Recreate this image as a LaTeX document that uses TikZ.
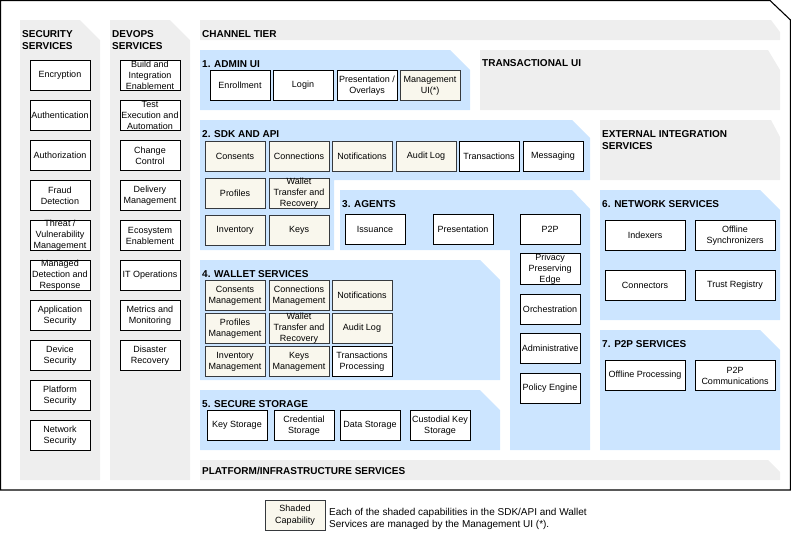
\documentclass[tikz,border=0pt]{standalone}
\usepackage{fontspec}
\setmainfont{Liberation Sans}
\definecolor{panelgray}{HTML}{EEEEEE}
\definecolor{panelblue}{HTML}{CCE5FF}
\definecolor{shadefill}{HTML}{F9F7ED}
\definecolor{shadeline}{HTML}{36393D}
\begin{document}
\begin{tikzpicture}
        [x=1pt, y=-1pt,
        box/.style={draw, fill=white, line width=0.9pt, minimum width=60pt, minimum height=30pt, inner sep=0pt, align=center, font=\fontsize{9}{11}\selectfont},
        shaded/.style={box, fill=shadefill, draw=shadeline},
        wide/.style={minimum width=80pt},
        title/.style={anchor=north west, inner sep=0pt, align=left, font=\fontsize{10}{12}\selectfont\bfseries},
        graypanel/.style={fill=panelgray},
        bluepanel/.style={fill=panelblue}]

        \useasboundingbox (0,0) rectangle (791,547);

        % outer frame
        \draw[line width=1.1pt] (0.5,0.5) -- (770,0.5) -- (790.5,20) -- (790.5,490) -- (0.5,490) -- cycle;

        % gray panels
        \fill[graypanel] (20,20) -- (80,20) -- (100,40) -- (100,480) -- (20,480) -- cycle;
        \fill[graypanel] (110,20) -- (170,20) -- (190,40) -- (190,480) -- (110,480) -- cycle;
        \fill[graypanel] (200,20) -- (771,20) -- (780,32) -- (780,40) -- (200,40) -- cycle;
        \fill[graypanel] (480,50) -- (768,50) -- (780,70) -- (780,110) -- (480,110) -- cycle;
        \fill[graypanel] (600,120) -- (771,120) -- (780,137) -- (780,180) -- (600,180) -- cycle;
        \fill[graypanel] (200,460) -- (768,460) -- (780,472) -- (780,480) -- (200,480) -- cycle;

        % blue panels
        \fill[bluepanel] (200,50) -- (450,50) -- (470,70) -- (470,110) -- (200,110) -- cycle;
        \fill[bluepanel] (200,120) -- (572,120) -- (590,138) -- (590,180) -- (334,180) -- (334,250) -- (200,250) -- cycle;
        \fill[bluepanel] (340,190) -- (572,190) -- (590,209) -- (590,450) -- (510,450) -- (510,250) -- (340,250) -- cycle;
        \fill[bluepanel] (200,260) -- (480,260) -- (500,280) -- (500,380) -- (200,380) -- cycle;
        \fill[bluepanel] (200,390) -- (480,390) -- (500,410) -- (500,450) -- (200,450) -- cycle;
        \fill[bluepanel] (600,190) -- (760,190) -- (780,210) -- (780,320) -- (600,320) -- cycle;
        \fill[bluepanel] (600,330) -- (760,330) -- (780,350) -- (780,450) -- (600,450) -- cycle;

        % panel titles
        \node[title] (securityT) at (22,30) {SECURITY\\SERVICES};
        \node[title] (devopsT) at (112,30) {DEVOPS\\SERVICES};
        \node[title] (channelT) at (202,30) {CHANNEL TIER};
        \node[title] (adminT) at (202,60) {1. ADMIN UI};
        \node[title] (transT) at (482,59.5) {TRANSACTIONAL UI};
        \node[title] (sdkT) at (202,130) {2. SDK AND API};
        \node[title] (externalT) at (602,130) {EXTERNAL INTEGRATION\\SERVICES};
        \node[title] (agentsT) at (342,200) {3. AGENTS};
        \node[title] (networkT) at (602,200.5) {6. NETWORK SERVICES};
        \node[title] (walletT) at (202,270) {4. WALLET SERVICES};
        \node[title] (p2pT) at (602,340.5) {7. P2P SERVICES};
        \node[title] (storageT) at (202,400.5) {5. SECURE STORAGE};
        \node[title] (platformT) at (202,467) {PLATFORM/INFRASTRUCTURE SERVICES};

        % security services
        \node[box] (encrypt) at (60,75.5) {Encryption};
        \node[box] (authn) at (60,115.5) {Authentication};
        \node[box] (authz) at (60,155.5) {Authorization};
        \node[box] (fraud) at (60,195.5) {Fraud\\Detection};
        \node[box] (threat) at (60,235.5) {Threat /\\Vulnerability\\Management};
        \node[box] (mdr) at (60,275.5) {Managed\\Detection and\\Response};
        \node[box] (appsec) at (60,315.5) {Application\\Security};
        \node[box] (devsec) at (60,355.5) {Device\\Security};
        \node[box] (platsec) at (60,395.5) {Platform\\Security};
        \node[box] (netsec) at (60,435.5) {Network\\Security};

        % devops services
        \node[box] (build) at (150,75.5) {Build and\\Integration\\Enablement};
        \node[box] (test) at (150,115.5) {Test\\Execution and\\Automation};
        \node[box] (change) at (150,155.5) {Change\\Control};
        \node[box] (delivery) at (150,195.5) {Delivery\\Management};
        \node[box] (ecosys) at (150,235.5) {Ecosystem\\Enablement};
        \node[box] (itops) at (150,275.5) {IT Operations};
        \node[box] (metrics) at (150,315.5) {Metrics and\\Monitoring};
        \node[box] (disaster) at (150,355.5) {Disaster\\Recovery};

        % admin ui
        \node[box] (enroll) at (240,85.5) {Enrollment};
        \node[box] (login) at (303,85.5) {Login};
        \node[box] (overlays) at (367,85.5) {Presentation /\\Overlays};
        \node[shaded] (mgmtui) at (430,85.5) {Management\\UI(*)};

        % sdk and api
        \node[shaded] (consents) at (235,156.5) {Consents};
        \node[shaded] (connections) at (299,156.5) {Connections};
        \node[shaded] (notify) at (362,156.5) {Notifications};
        \node[shaded] (audit) at (426,156.5) {Audit Log};
        \node[box] (transactions) at (489,156.5) {Transactions};
        \node[box] (messaging) at (553,156.5) {Messaging};
        \node[shaded] (profiles) at (235,193.5) {Profiles};
        \node[shaded] (transfer) at (299,193.5) {Wallet\\Transfer and\\Recovery};
        \node[shaded] (inventory) at (235,230.5) {Inventory};
        \node[shaded] (keys) at (299,230.5) {Keys};

        % agents
        \node[box] (issuance) at (375,229) {Issuance};
        \node[box] (presentation) at (463,229) {Presentation};
        \node[box] (agentp2p) at (550,229) {P2P};
        \node[box] (privacy) at (550,269) {Privacy\\Preserving\\Edge};
        \node[box] (orchestr) at (550,309) {Orchestration};
        \node[box] (administr) at (550,348) {Administrative};
        \node[box] (policy) at (550,388) {Policy Engine};

        % wallet services
        \node[shaded] (consentsM) at (235,295.5) {Consents\\Management};
        \node[shaded] (connectionsM) at (299,295.5) {Connections\\Management};
        \node[shaded] (notifyW) at (362,295.5) {Notifications};
        \node[shaded] (profilesM) at (235,328.5) {Profiles\\Management};
        \node[shaded] (transferW) at (299,328.5) {Wallet\\Transfer and\\Recovery};
        \node[shaded] (auditW) at (362,328.5) {Audit Log};
        \node[shaded] (inventoryM) at (235,361.5) {Inventory\\Management};
        \node[shaded] (keysM) at (299,361.5) {Keys\\Management};
        \node[box] (txproc) at (362,361.5) {Transactions\\Processing};

        % secure storage
        \node[box] (keystore) at (237,425.5) {Key Storage};
        \node[box] (credstore) at (304,425.5) {Credential\\Storage};
        \node[box] (datastore) at (370,425.5) {Data Storage};
        \node[box] (custodial) at (440,425.5) {Custodial Key\\Storage};

        % network services
        \node[box, wide] (indexers) at (645,235.5) {Indexers};
        \node[box, wide] (offsync) at (735,235.5) {Offline\\Synchronizers};
        \node[box, wide] (connectors) at (645,285.5) {Connectors};
        \node[box, wide] (trust) at (735,285.5) {Trust Registry};

        % p2p services
        \node[box, wide] (offproc) at (645,375.5) {Offline Processing};
        \node[box, wide] (p2pcomm) at (735,375.5) {P2P\\Communications};

        % legend
        \node[shaded, font=\fontsize{9}{12}\selectfont] (legendbox) at (295,515.5) {Shaded\\Capability};
        \node[anchor=west, inner sep=0pt, align=left, font=\fontsize{10}{12}\selectfont] (legendtext) at (329,518.5) {Each of the shaded capabilities in the SDK/API and Wallet\\Services are managed by the Management UI (*).};

        \end{tikzpicture}
\end{document}
